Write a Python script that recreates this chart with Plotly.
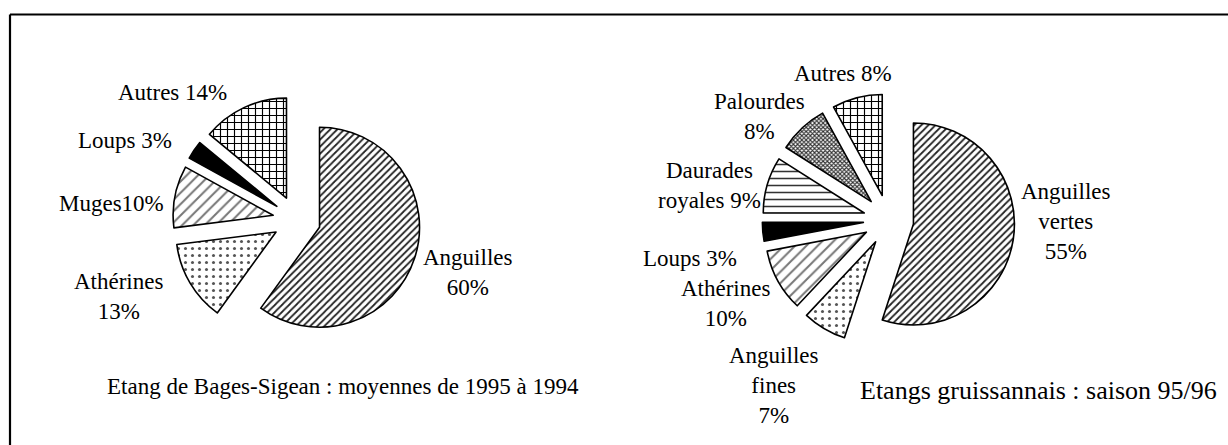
import plotly.graph_objects as go

W, H = 1228, 445

# ---- data ----
left_categories = ["Anguilles", "Athérines", "Muges", "Loups", "Autres"]
left_values = [60, 13, 10, 3, 14]
left_label_text = ["Anguilles<br>60%", "Athérines<br>13%", "Muges10%", "Loups 3%", "Autres 14%"]
left_title = "Etang de Bages-Sigean : moyennes de 1995 à 1994"

right_categories = ["Anguilles vertes", "Anguilles fines", "Athérines", "Loups",
                    "Daurades royales", "Palourdes", "Autres"]
right_values = [55, 7, 10, 3, 9, 8, 8]
right_label_text = ["Anguilles<br>vertes<br>55%", "Anguilles<br>fines<br>7%", "Athérines<br>10%",
                    "Loups 3%", "Daurades<br>royales 9%", "Palourdes<br>8%", "Autres 8%"]
right_title = "Etangs gruissannais : saison 95/96"

# ---- styles ----
PAT = {
    "Anguilles": dict(shape="/", size=5, solidity=0.35, fgcolor="#222"),
    "Anguilles vertes": dict(shape="/", size=5, solidity=0.35, fgcolor="#222"),
    "Athérines": dict(shape="/", size=8, solidity=0.25, fgcolor="#777"),
    "Muges": dict(shape="/", size=8, solidity=0.25, fgcolor="#777"),
    "Loups": dict(shape="", size=8, solidity=0.3, fgcolor="#000"),
    "Autres": dict(shape="+", size=7, solidity=0.3, fgcolor="#000"),
    "Anguilles fines": dict(shape=".", size=7, solidity=0.15, fgcolor="#555"),
    "Daurades royales": dict(shape="-", size=7, solidity=0.22, fgcolor="#333"),
    "Palourdes": dict(shape="x", size=3, solidity=0.6, fgcolor="#333"),
}
# Athérines in left chart is dotted
LEFT_OVERRIDE = {"Athérines": dict(shape=".", size=7, solidity=0.15, fgcolor="#555")}


def colors_and_patterns(cats, override=None):
    override = override or {}
    cols, shapes, sizes, sols, fgs = [], [], [], [], []
    for c in cats:
        p = override.get(c, PAT[c])
        cols.append("black" if c == "Loups" else "white")
        shapes.append(p["shape"])
        sizes.append(p["size"])
        sols.append(p["solidity"])
        fgs.append(p["fgcolor"])
    return cols, dict(shape=shapes, size=sizes, solidity=sols, fgcolor=fgs, bgcolor="white")


def domain(cx, cy, r, pull):
    half = r * (1 + pull)
    return dict(x=[(cx - half) / W, (cx + half) / W],
                y=[(H - cy - half) / H, (H - cy + half) / H])


fig = go.Figure()

lc, lp = colors_and_patterns(left_categories, LEFT_OVERRIDE)
fig.add_trace(go.Pie(
    labels=left_categories, values=left_values, sort=False, direction="clockwise",
    rotation=0, pull=[0.24] * len(left_values), textinfo="none", hoverinfo="label+percent",
    marker=dict(colors=lc, pattern=lp, line=dict(color="black", width=1.6)),
    domain=domain(296.7, 219.8, 100, 0.24), showlegend=False,
))

rc, rp = colors_and_patterns(right_categories)
fig.add_trace(go.Pie(
    labels=right_categories, values=right_values, sort=False, direction="clockwise",
    rotation=0, pull=[0.25] * len(right_values), textinfo="none", hoverinfo="label+percent",
    marker=dict(colors=rc, pattern=rp, line=dict(color="black", width=1.6)),
    domain=domain(888.5, 220, 101, 0.25), showlegend=False,
))

FAMILY = "'Liberation Serif', 'DejaVu Serif', serif"
FONT = dict(family=FAMILY, size=23, color="black")

left_pos = [(467, 272), (118, 296), (111, 203), (125, 140), (172, 92)]
right_pos = [(1065, 221), (774, 385), (725, 303), (690, 258), (709, 185), (759, 117), (843, 73)]

ann = []
for txt, (x, y) in zip(left_label_text, left_pos):
    ann.append(dict(text=txt, x=x / W, y=1 - y / H, font=FONT))
for txt, (x, y) in zip(right_label_text, right_pos):
    ann.append(dict(text=txt, x=x / W, y=1 - y / H, font=FONT))
ann.append(dict(text=left_title, x=343 / W, y=1 - 386 / H, font=FONT))
ann.append(dict(text=right_title, x=1038 / W, y=1 - 390 / H,
                font=dict(family=FAMILY, size=26, color="black")))
for a in ann:
    a.update(xref="paper", yref="paper", showarrow=False, xanchor="center",
             yanchor="middle", align="center")

fig.update_layout(
    width=W, height=H, autosize=False,
    margin=dict(l=0, r=0, t=0, b=0),
    paper_bgcolor="white", plot_bgcolor="white",
    annotations=ann,
    shapes=[
        dict(type="line", xref="paper", yref="paper", x0=10 / W, x1=1.01,
             y0=1 - 14.5 / H, y1=1 - 14.5 / H, line=dict(color="black", width=2.2)),
        dict(type="line", xref="paper", yref="paper", x0=10 / W, x1=10 / W,
             y0=-0.01, y1=1 - 14.5 / H, line=dict(color="black", width=2.2)),
    ],
)

fig.write_html("out.html", config={"displayModeBar": False},
               post_script="document.body.style.margin='0';")
